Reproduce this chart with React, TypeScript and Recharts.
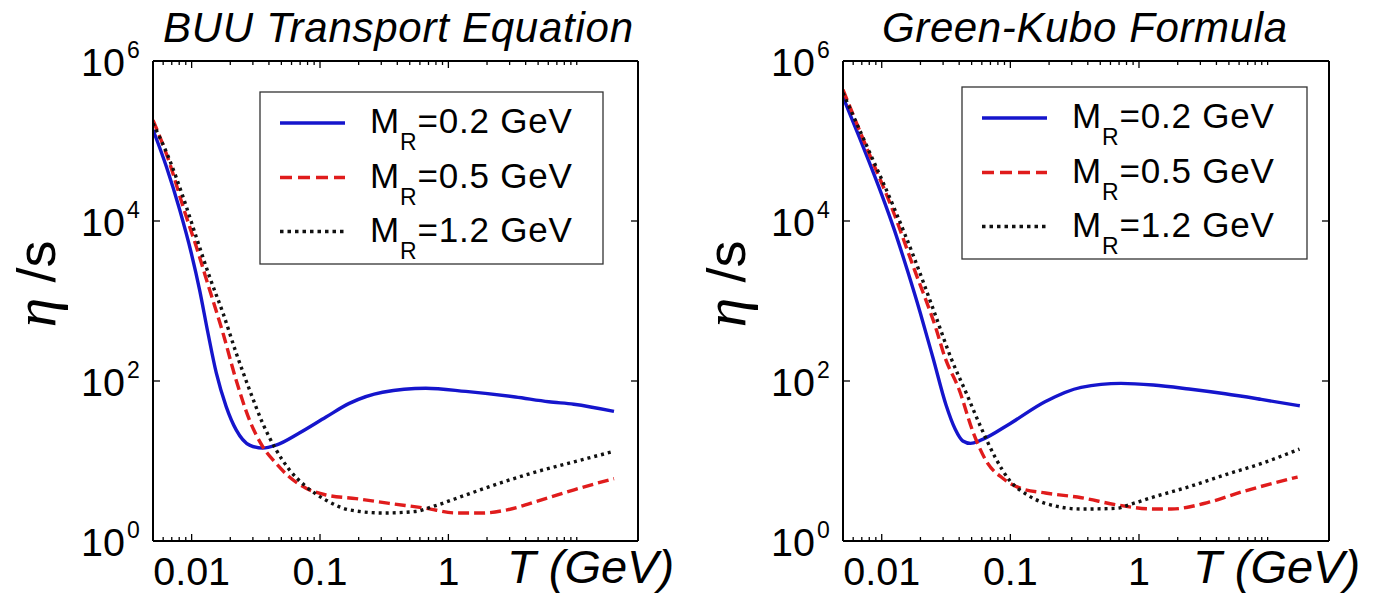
import React from "react";
import { LineChart, Line, XAxis, YAxis } from "recharts";

// ---------- tick definitions ----------
const xTicks = [
  0.006, 0.007, 0.008, 0.009, 0.01, 0.02, 0.03, 0.04, 0.05, 0.06, 0.07, 0.08, 0.09,
  0.1, 0.2, 0.3, 0.4, 0.5, 0.6, 0.7, 0.8, 0.9, 1, 2, 3, 4, 5, 6, 7, 8, 9, 10,
];
const xMajorTicks = [0.01, 0.1, 1];
const xMajorLabels = ["0.01", "0.1", "1"];
const yTicks = [1, 100, 10000, 1000000];
const yTickExps = ["0", "2", "4", "6"];
const xDomain = [0.005, 30];
const yDomain = [1, 1000000];

// ---------- series labels ----------
const seriesNames = ["0.2", "0.5", "1.2"];
const panelTitles = ["BUU Transport Equation", "Green-Kubo Formula"];

// ---------- BUU panel data ----------
const buuBlueT = [0.005, 0.00635, 0.00807, 0.00993, 0.01153, 0.0134, 0.01556, 0.01858, 0.02223, 0.02825, 0.0358, 0.0455, 0.069, 0.1114, 0.169, 0.307, 0.667, 1.365, 3.33, 6.05, 9.48, 19.5];
const buuBlueEta = [138000, 47900, 13800, 3980, 1380, 398, 126, 47.9, 24.5, 15.8, 14.5, 15.8, 22.4, 35.5, 52.5, 72.4, 81.3, 74.1, 63.1, 55.0, 51.3, 41.7];

const buuRedT = [0.005, 0.00675, 0.00857, 0.01086, 0.0138, 0.01754, 0.02223, 0.02825, 0.0358, 0.0455, 0.0578, 0.0778, 0.1114, 0.1905, 0.346, 0.667, 1.14, 1.84, 2.87, 5.24, 9.53, 19.5];
const buuRedEta = [182000, 52500, 15100, 4790, 1380, 398, 102, 32.4, 15.1, 9.33, 6.31, 4.57, 3.76, 3.39, 2.95, 2.57, 2.24, 2.24, 2.45, 3.24, 4.37, 6.03];

const buuBlackT = [0.005, 0.00675, 0.00857, 0.01086, 0.0138, 0.01754, 0.02223, 0.02825, 0.0358, 0.0455, 0.0578, 0.0778, 0.1114, 0.169, 0.307, 0.557, 0.752, 1.365, 2.48, 4.5, 9.53, 19.5];
const buuBlackEta = [166000, 57500, 20000, 6310, 2000, 708, 224, 77.6, 29.5, 13.8, 7.76, 4.79, 3.24, 2.45, 2.24, 2.34, 2.69, 3.76, 5.25, 7.08, 9.77, 13.2];

// ---------- Green-Kubo panel data ----------
const gkBlueT = [0.005, 0.00631, 0.00794, 0.01, 0.01259, 0.01585, 0.01995, 0.02512, 0.03162, 0.0372, 0.0427, 0.049, 0.0589, 0.1, 0.186, 0.355, 0.724, 1.29, 2.45, 4.68, 8.91, 17.8];
const gkBlueEta = [355000, 141000, 56200, 21400, 7590, 2400, 708, 191, 50.1, 25.1, 17.8, 16.6, 18.2, 29.5, 55.0, 83.2, 93.3, 89.1, 79.4, 69.2, 58.9, 49.0];

const gkRedT = [0.005, 0.00794, 0.01189, 0.01778, 0.0266, 0.0309, 0.0398, 0.0516, 0.0667, 0.0863, 0.1194, 0.1875, 0.357, 0.681, 1.3, 1.78, 3.41, 6.5, 17.1];
const gkRedEta = [437000, 70800, 15100, 2570, 437, 200, 79.4, 22.4, 9.33, 6.17, 4.57, 3.98, 3.47, 2.82, 2.51, 2.51, 3.02, 4.17, 6.31];

const gkBlackT = [0.005, 0.00794, 0.01259, 0.01778, 0.02512, 0.0351, 0.0454, 0.0587, 0.076, 0.0984, 0.1358, 0.1875, 0.357, 0.681, 0.826, 1.3, 2.47, 4.72, 9.0, 17.7];
const gkBlackEta = [398000, 75900, 14100, 3550, 794, 182, 70.8, 26.9, 11.2, 5.75, 3.76, 2.95, 2.51, 2.57, 2.82, 3.55, 4.79, 6.76, 9.33, 14.1];

const toRows = (ts: number[], es: number[]) => ts.map((t, i) => ({ T: t, eta: es[i] }));

const BLUE = "#1515cc";
const RED = "#e01c1c";
const BLACK = "#111111";
const SANS = "'Liberation Sans', Arial, sans-serif";

const seriesStyles = [
  { color: BLUE, dash: undefined as string | undefined, legendDash: undefined as string | undefined },
  { color: RED, dash: "11 5", legendDash: "12 6" },
  { color: BLACK, dash: "3 4", legendDash: "3.5 4" },
];

const makeXTick = (side: "bottom" | "top") => (props: any) => {
  const { x, y, payload } = props;
  const v = payload.value;
  const idx = xMajorTicks.findIndex((m) => Math.abs(m - v) < 1e-9);
  const isMajor = idx >= 0;
  const len = isMajor ? 7 : 4;
  const dir = side === "bottom" ? -1 : 1;
  return (
    <g>
      <line x1={x} x2={x} y1={y} y2={y + dir * len} stroke="#000" strokeWidth={1.3} />
      {side === "bottom" && isMajor ? (
        <text x={x} y={y + 44} textAnchor="middle" fontSize={39.5} fontFamily={SANS} fill="#000">
          {xMajorLabels[idx]}
        </text>
      ) : null}
    </g>
  );
};

const makeYTick = (side: "left" | "right") => (props: any) => {
  const { x, y, payload } = props;
  const idx = yTicks.findIndex((t) => Math.abs(t - payload.value) < 1e-6 * t);
  const dir = side === "left" ? 1 : -1;
  return (
    <g>
      <line x1={x} x2={x + dir * 7} y1={y} y2={y} stroke="#000" strokeWidth={1.3} />
      {side === "left" ? (
        <g>
          <text x={x - 28} y={y + 15} textAnchor="end" fontSize={39.5} fontFamily={SANS} fill="#000">
            10
          </text>
          <text x={x - 26} y={y - 3} fontSize={23} fontFamily={SANS} fill="#000">
            {yTickExps[idx]}
          </text>
        </g>
      ) : null}
    </g>
  );
};

type PanelProps = {
  left: number;
  width: number;
  marginRight: number;
  title: string;
  titleX: number;
  titleLen: number;
  series: { T: number; eta: number }[][];
  legend: { x: number; y: number; w: number; h: number };
  xLabelX: number;
};

function Panel(p: PanelProps) {
  const H = 601;
  const lx = p.legend.x;
  const ly = p.legend.y;
  const rowY = [ly + 31, ly + 85.5, ly + 139.5];
  return (
    <div style={{ position: "absolute", left: p.left, top: 0, width: p.width, height: H }}>
      <LineChart width={p.width} height={H} margin={{ top: 60, right: p.marginRight - 1, bottom: 59, left: 152 }}>
        <XAxis
          xAxisId="b"
          dataKey="T"
          type="number"
          scale="log"
          domain={xDomain}
          allowDataOverflow
          ticks={xTicks}
          interval={0}
          height={1}
          tickSize={0}
          tickMargin={0}
          tickLine={false}
          axisLine={{ stroke: "#000", strokeWidth: 2 }}
          tick={makeXTick("bottom")}
        />
        <XAxis
          xAxisId="t"
          orientation="top"
          dataKey="T"
          type="number"
          scale="log"
          domain={xDomain}
          allowDataOverflow
          ticks={xTicks}
          interval={0}
          height={1}
          tickSize={0}
          tickMargin={0}
          tickLine={false}
          axisLine={{ stroke: "#000", strokeWidth: 2 }}
          tick={makeXTick("top")}
        />
        <YAxis
          yAxisId="l"
          dataKey="eta"
          type="number"
          scale="log"
          domain={yDomain}
          allowDataOverflow
          ticks={yTicks}
          interval={0}
          width={1}
          tickSize={0}
          tickMargin={0}
          tickLine={false}
          axisLine={{ stroke: "#000", strokeWidth: 2 }}
          tick={makeYTick("left")}
        />
        <YAxis
          yAxisId="r"
          orientation="right"
          dataKey="eta"
          type="number"
          scale="log"
          domain={yDomain}
          allowDataOverflow
          ticks={yTicks}
          interval={0}
          width={1}
          tickSize={0}
          tickMargin={0}
          tickLine={false}
          axisLine={{ stroke: "#000", strokeWidth: 2 }}
          tick={makeYTick("right")}
        />
        {p.series.map((rows, i) => (
          <Line
            key={i}
            data={rows}
            xAxisId="b"
            yAxisId="l"
            dataKey="eta"
            type="monotone"
            stroke={seriesStyles[i].color}
            strokeWidth={3.4}
            strokeDasharray={seriesStyles[i].dash}
            dot={false}
            activeDot={false}
            isAnimationActive={false}
            name={"M_R=" + seriesNames[i] + " GeV"}
          />
        ))}
      </LineChart>
      <svg
        width={p.width}
        height={H}
        style={{ position: "absolute", left: 0, top: 0, pointerEvents: "none" }}
      >
        <text
          x={p.titleX}
          y={42}
          fontSize={42}
          fontStyle="italic"
          fontFamily={SANS}
          textLength={p.titleLen}
          lengthAdjust="spacing"
          fill="#000"
        >
          {p.title}
        </text>
        <text
          transform="rotate(-90, 55, 284)"
          x={55}
          y={284}
          textAnchor="middle"
          fontSize={54}
          fill="#000"
        >
          <tspan fontFamily="'Liberation Serif', 'DejaVu Serif', serif" fontStyle="italic" fontSize={60}>
            η
          </tspan>
          <tspan fontFamily={SANS}> /s</tspan>
        </text>
        <text
          x={p.xLabelX}
          y={583}
          fontSize={47}
          fontStyle="italic"
          fontFamily={SANS}
          fill="#000"
        >
          T (GeV)
        </text>
        <rect x={lx} y={ly} width={p.legend.w} height={p.legend.h} fill="#fff" stroke="#333" strokeWidth={1.3} />
        {seriesNames.map((n, i) => (
          <g key={n}>
            <line
              x1={lx + 20}
              x2={lx + 85}
              y1={rowY[i]}
              y2={rowY[i]}
              stroke={seriesStyles[i].color}
              strokeWidth={3.4}
              strokeDasharray={seriesStyles[i].legendDash}
            />
            <text x={lx + 110} y={rowY[i] + 10} fontSize={35} fontFamily={SANS} fill="#000" letterSpacing={0.8}>
              M
              <tspan dy={17} fontSize={23}>
                R
              </tspan>
              <tspan dy={-17} fontSize={35}>
                {"=" + n + " GeV"}
              </tspan>
            </text>
          </g>
        ))}
      </svg>
    </div>
  );
}

export default function App() {
  const buuSeries = [toRows(buuBlueT, buuBlueEta), toRows(buuRedT, buuRedEta), toRows(buuBlackT, buuBlackEta)];
  const gkSeries = [toRows(gkBlueT, gkBlueEta), toRows(gkRedT, gkRedEta), toRows(gkBlackT, gkBlackEta)];
  return (
    <div style={{ position: "absolute", left: 0, top: 0, width: 1392, height: 601, background: "#fff", overflow: "hidden" }}>
      <Panel
        left={0}
        width={696}
        marginRight={58}
        title={panelTitles[0]}
        titleX={163}
        titleLen={470}
        series={buuSeries}
        legend={{ x: 260, y: 92, w: 343, h: 172 }}
        xLabelX={507}
      />
      <Panel
        left={690}
        width={702}
        marginRight={63}
        title={panelTitles[1]}
        titleX={192}
        titleLen={405}
        series={gkSeries}
        legend={{ x: 272, y: 87, w: 345, h: 172 }}
        xLabelX={503}
      />
    </div>
  );
}
